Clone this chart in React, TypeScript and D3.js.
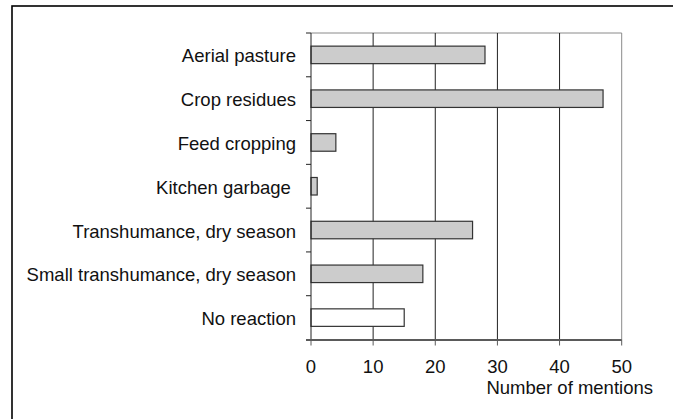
import React from 'react'
import * as d3 from 'd3'

const categories = [
	'Aerial pasture',
	'Crop residues',
	'Feed cropping',
	'Kitchen garbage ',
	'Transhumance, dry season',
	'Small transhumance, dry season',
	'No reaction',
]
const mentions = [28, 47, 4, 1, 26, 18, 15]
const xTicks = [0, 10, 20, 30, 40, 50]
const xLabel = 'Number of mentions'

const W = 673
const H = 419
const plot = { left: 311, right: 621.7, top: 33, bottom: 339.5 }
const font = '"Liberation Sans", Arial, sans-serif'

export default function App() {
	const x = d3.scaleLinear().domain([0, 50]).range([plot.left, plot.right])
	const y = d3
		.scaleBand<string>()
		.domain(categories)
		.range([plot.top, plot.bottom])
		.paddingInner(0.6)
		.paddingOuter(0.3)
	const step = y.step()
	const bandEdges = d3.range(categories.length + 1).map(i => plot.top + i * step)

	return (
		<svg
			width={W}
			height={H}
			style={{ position: 'absolute', left: 0, top: 0, background: '#fff' }}
			fontFamily={font}
		>
			{/* outer frame, cut off at right and bottom */}
			<rect x={12} y={6} width={W} height={H} fill="none" stroke="#000" strokeWidth={1.6} />

			{/* plot frame */}
			<line x1={plot.left} x2={plot.right} y1={plot.top} y2={plot.top} stroke="#8a8a8a" />
			<line x1={plot.right} x2={plot.right} y1={plot.top} y2={plot.bottom} stroke="#8a8a8a" />

			{/* gridlines */}
			{xTicks.slice(1, -1).map(t => (
				<line key={t} x1={x(t)} x2={x(t)} y1={plot.top} y2={plot.bottom} stroke="#222" />
			))}

			{/* bars */}
			{categories.map((c, i) => (
				<rect
					key={c}
					x={x(0)}
					y={y(c)}
					width={x(mentions[i]) - x(0)}
					height={y.bandwidth()}
					fill={c === 'No reaction' ? '#ffffff' : '#cccccc'}
					stroke="#333"
					strokeWidth={1.2}
				/>
			))}

			{/* y axis */}
			<line x1={plot.left} x2={plot.left} y1={plot.top} y2={plot.bottom + 1} stroke="#222" />
			{bandEdges.map((e, i) => (
				<line key={i} x1={plot.left - 5} x2={plot.left} y1={e} y2={e} stroke="#222" />
			))}
			{categories.map(c => (
				<text
					key={c}
					x={296}
					y={(y(c) ?? 0) + y.bandwidth() / 2 + 7.5}
					textAnchor="end"
					fontSize={18.5}
					fill="#111"
					style={{ whiteSpace: 'pre' }}
				>
					{c}
				</text>
			))}

			{/* x axis */}
			<line x1={plot.left - 5} x2={plot.right} y1={plot.bottom + 0.5} y2={plot.bottom + 0.5} stroke="#5a5a5a" strokeWidth={2} />
			{xTicks.map(t => (
				<g key={t}>
					<line x1={x(t)} x2={x(t)} y1={plot.bottom} y2={plot.bottom + 6} stroke="#5a5a5a" />
					<text x={x(t)} y={372.7} textAnchor="middle" fontSize={18.5} fill="#111">
						{t}
					</text>
				</g>
			))}
			<text x={569.7} y={394.3} textAnchor="middle" fontSize={18.5} fill="#111">
				{xLabel}
			</text>
		</svg>
	)
}
